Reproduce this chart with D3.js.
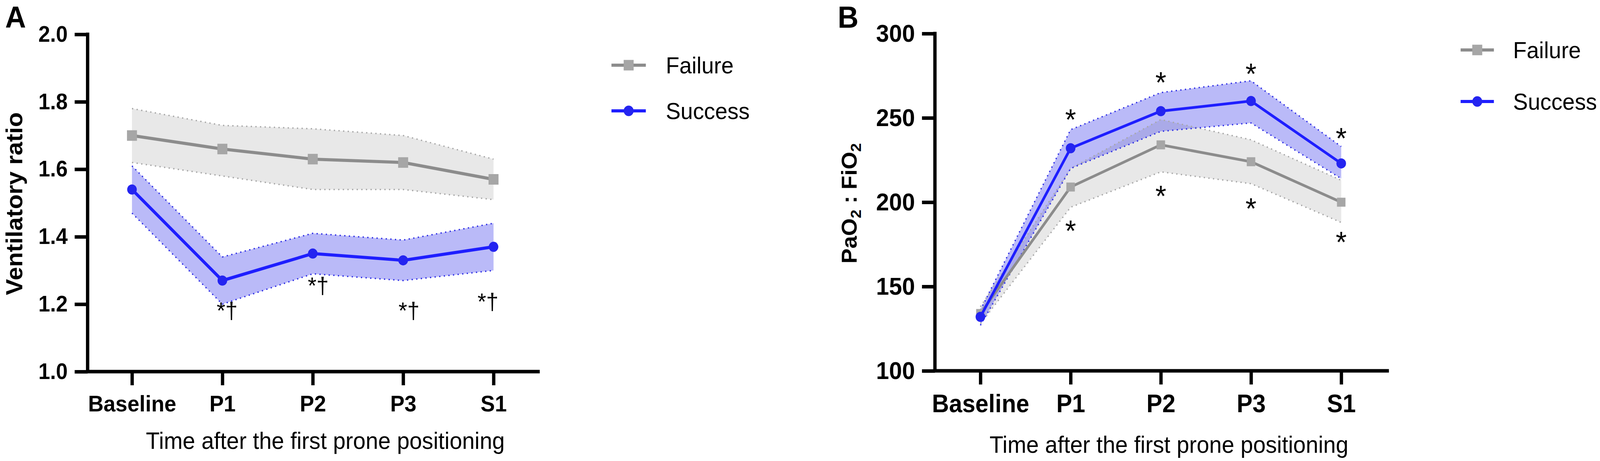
<!DOCTYPE html>
<html><head><meta charset="utf-8">
<script src="https://cdn.jsdelivr.net/npm/d3@7/dist/d3.min.js"></script>
<style>html,body{margin:0;padding:0;background:#fff;overflow:hidden;} svg{display:block;width:100vw;height:100vh;}</style>
</head><body>
<svg id="chart" viewBox="0 0 4328 1181" preserveAspectRatio="none"></svg>
<script>
// ---------------- DATA ----------------
const categories = ["Baseline", "P1", "P2", "P3", "S1"];
const seriesNames = ["Failure", "Success"];

// Panel A: Ventilatory ratio
const ventTicks = [1.0, 1.2, 1.4, 1.6, 1.8, 2.0];
const ventFailure      = [1.70, 1.66, 1.63, 1.62, 1.57];
const ventFailureUpper = [1.78, 1.73, 1.72, 1.70, 1.63];
const ventFailureLower = [1.62, 1.58, 1.54, 1.54, 1.51];
const ventSuccess      = [1.54, 1.27, 1.35, 1.33, 1.37];
const ventSuccessUpper = [1.61, 1.34, 1.41, 1.39, 1.44];
const ventSuccessLower = [1.47, 1.20, 1.29, 1.27, 1.30];
const ventMarkCats   = ["P1", "P2", "P3", "S1"];
const ventMarkLevels = [1.157, 1.231, 1.157, 1.184];
const ventMarkText   = "*\u2020";

// Panel B: PaO2 : FiO2
const pfTicks = [100, 150, 200, 250, 300];
const pfFailure      = [134, 209, 234, 224, 200];
const pfFailureUpper = [138, 220, 249, 237, 213];
const pfFailureLower = [128, 197, 218, 211, 188];
const pfSuccess      = [132, 232, 254, 260, 223];
const pfSuccessUpper = [136, 243, 265, 272, 233];
const pfSuccessLower = [127, 220, 242, 247, 214];
const pfMarkCats        = ["P1", "P2", "P3", "S1"];
const pfMarkAboveLevels = [253.5, 275.5, 280.8, 242.4];
const pfMarkBelowLevels = [187.7, 208.3, 200.9, 181.0];

const xTitle = "Time after the first prone positioning";

// ---------------- STYLE ----------------
const FONT = "'Liberation Sans', Arial, Helvetica, sans-serif";
const COL = {
  failLine: "#8c8c8c", failMark: "#a6a6a6", failBand: "#e8e8e8", failEdge: "#a8a8a8",
  succLine: "#1e1eff", succMark: "#2424f0", succBand: "rgba(45,45,235,0.33)", succEdge: "#2f2fe6"
};

const svg = d3.select("#chart");

function drawPanel(c) {
  const g = svg.append("g");
  const x = d3.scalePoint().domain(categories).range(c.xRange);
  const y = d3.scaleLinear().domain(c.yDomain).range(c.yRange);
  const xi = (d, i) => x(categories[i]);

  const area = d3.area().x(xi).y0((d, i) => y(c.fLower[i])).y1((d, i) => y(c.fUpper[i]));
  const areaS = d3.area().x(xi).y0((d, i) => y(c.sLower[i])).y1((d, i) => y(c.sUpper[i]));
  const line = d3.line().x(xi).y(d => y(d));

  // bands
  g.append("path").datum(c.fMean).attr("d", area).attr("fill", COL.failBand);
  g.append("path").datum(c.sMean).attr("d", areaS).attr("fill", COL.succBand);
  // dotted edges
  [[c.fUpper, COL.failEdge], [c.fLower, COL.failEdge], [c.sUpper, COL.succEdge], [c.sLower, COL.succEdge]]
    .forEach(([arr, col]) => {
      g.append("path").datum(arr).attr("d", line).attr("fill", "none")
        .attr("stroke", col).attr("stroke-width", 3.5).attr("stroke-dasharray", "3.5 9");
    });

  // failure line + squares
  g.append("path").datum(c.fMean).attr("d", line).attr("fill", "none")
    .attr("stroke", COL.failLine).attr("stroke-width", c.lineW);
  g.selectAll(null).data(c.fMean).enter().append("rect")
    .attr("x", (d, i) => xi(d, i) - c.sq / 2).attr("y", d => y(d) - c.sq / 2)
    .attr("width", c.sq).attr("height", c.sq).attr("fill", COL.failMark);
  // success line + circles
  g.append("path").datum(c.sMean).attr("d", line).attr("fill", "none")
    .attr("stroke", COL.succLine).attr("stroke-width", c.lineW);
  g.selectAll(null).data(c.sMean).enter().append("circle")
    .attr("cx", (d, i) => xi(d, i)).attr("cy", d => y(d)).attr("r", c.r).attr("fill", COL.succMark);

  // axes
  const yAxis = d3.axisLeft(y).tickValues(c.yTicks).tickFormat(d3.format(c.yFmt))
    .tickSize(35).tickSizeOuter(0).tickPadding(19);
  const ga = g.append("g").attr("transform", `translate(${c.axisX0},0)`).call(yAxis);
  ga.select(".domain").attr("d", `M0,${c.yRange[0]}V${c.yRange[1] - 4.5}`);
  const xAxis = d3.axisBottom(x).tickSize(35).tickSizeOuter(0).tickPadding(26);
  const gx = g.append("g").attr("transform", `translate(0,${c.yRange[0]})`).call(xAxis);
  gx.select(".domain").attr("d", `M${c.axisX0 - 4.5},0H${c.axisX1}`);
  [ga, gx].forEach(a => {
    a.attr("font-family", FONT).attr("font-weight", "bold");
    a.selectAll(".domain, .tick line").attr("stroke", "#000").attr("stroke-width", 9);
    a.selectAll("text").attr("fill", "#000");
  });
  ga.attr("font-size", c.yTickFont);
  gx.attr("font-size", c.xTickFont);

  // x title
  g.append("text").attr("x", c.xTitlePos[0]).attr("y", c.xTitlePos[1])
    .attr("text-anchor", "middle").attr("font-family", FONT).attr("font-size", 61)
    .text(xTitle);

  // panel letter
  g.append("text").attr("x", c.letterPos[0]).attr("y", c.letterPos[1])
    .attr("font-family", FONT).attr("font-weight", "bold").attr("font-size", 78).text(c.letter);

  // legend
  const lg = g.append("g");
  seriesNames.forEach((name, i) => {
    const ly = c.legendY[i];
    const [lx0, lx1] = c.legendX;
    const mx = (lx0 + lx1) / 2;
    lg.append("line").attr("x1", lx0).attr("x2", lx1).attr("y1", ly).attr("y2", ly)
      .attr("stroke", i === 0 ? COL.failLine : COL.succLine).attr("stroke-width", 8);
    if (i === 0) {
      lg.append("rect").attr("x", mx - 13.5).attr("y", ly - 13.5).attr("width", 27).attr("height", 27)
        .attr("fill", COL.failMark);
    } else {
      lg.append("circle").attr("cx", mx).attr("cy", ly).attr("r", 13.5).attr("fill", COL.succMark);
    }
    lg.append("text").attr("x", c.legendTextX).attr("y", ly).attr("dy", "0.358em")
      .attr("font-family", FONT).attr("font-size", 60).text(name);
  });
  return { g, x, y };
}

// ---------------- PANEL A ----------------
const A = drawPanel({
  letter: "A", letterPos: [14, 71],
  xRange: [357, 1335], axisX0: 237, axisX1: 1460,
  yDomain: [1, 2], yRange: [952, 88], yTicks: ventTicks, yFmt: ".1f",
  yTickFont: 57, xTickFont: 58,
  fMean: ventFailure, fUpper: ventFailureUpper, fLower: ventFailureLower,
  sMean: ventSuccess, sUpper: ventSuccessUpper, sLower: ventSuccessLower,
  lineW: 8, sq: 27, r: 13,
  xTitlePos: [880, 1150],
  legendX: [1654, 1747], legendY: [167, 284], legendTextX: 1801
});
A.g.append("text").attr("transform", "translate(60,522) rotate(-90)")
  .attr("text-anchor", "middle").attr("font-family", FONT).attr("font-weight", "bold")
  .attr("font-size", 62).text("Ventilatory ratio");
const ventMarkDx = [13, 15, 16, -15];
A.g.selectAll(null).data(ventMarkCats).enter().append("text")
  .attr("x", (d, i) => A.x(d) + ventMarkDx[i]).attr("y", (d, i) => A.y(ventMarkLevels[i]))
  .attr("text-anchor", "middle").attr("font-family", FONT).attr("font-size", 60)
  .text(ventMarkText);

// ---------------- PANEL B ----------------
const B = drawPanel({
  letter: "B", letterPos: [2266, 71],
  xRange: [2652, 3628], axisX0: 2529, axisX1: 3757,
  yDomain: [100, 300], yRange: [950, 86], yTicks: pfTicks, yFmt: "d",
  yTickFont: 63, xTickFont: 64,
  fMean: pfFailure, fUpper: pfFailureUpper, fLower: pfFailureLower,
  sMean: pfSuccess, sUpper: pfSuccessUpper, sLower: pfSuccessLower,
  lineW: 7, sq: 23, r: 13,
  xTitlePos: [3162, 1160],
  legendX: [3951, 4041], legendY: [128, 260], legendTextX: 4093
});
const yt = B.g.append("text").attr("transform", "translate(2317,521) rotate(-90)")
  .attr("text-anchor", "middle").attr("font-family", FONT).attr("font-weight", "bold")
  .attr("font-size", 58);
yt.append("tspan").text("PaO");
yt.append("tspan").attr("font-size", 40).attr("dy", 12).text("2");
yt.append("tspan").attr("dy", -12).text(" : FiO");
yt.append("tspan").attr("font-size", 40).attr("dy", 12).text("2");

[pfMarkAboveLevels, pfMarkBelowLevels].forEach(levels => {
  B.g.selectAll(null).data(pfMarkCats).enter().append("text")
    .attr("x", d => B.x(d)).attr("y", (d, i) => B.y(levels[i])).attr("dy", "0.6em")
    .attr("text-anchor", "middle").attr("font-family", FONT).attr("font-size", 76)
    .text("*");
});
</script>
</body></html>
